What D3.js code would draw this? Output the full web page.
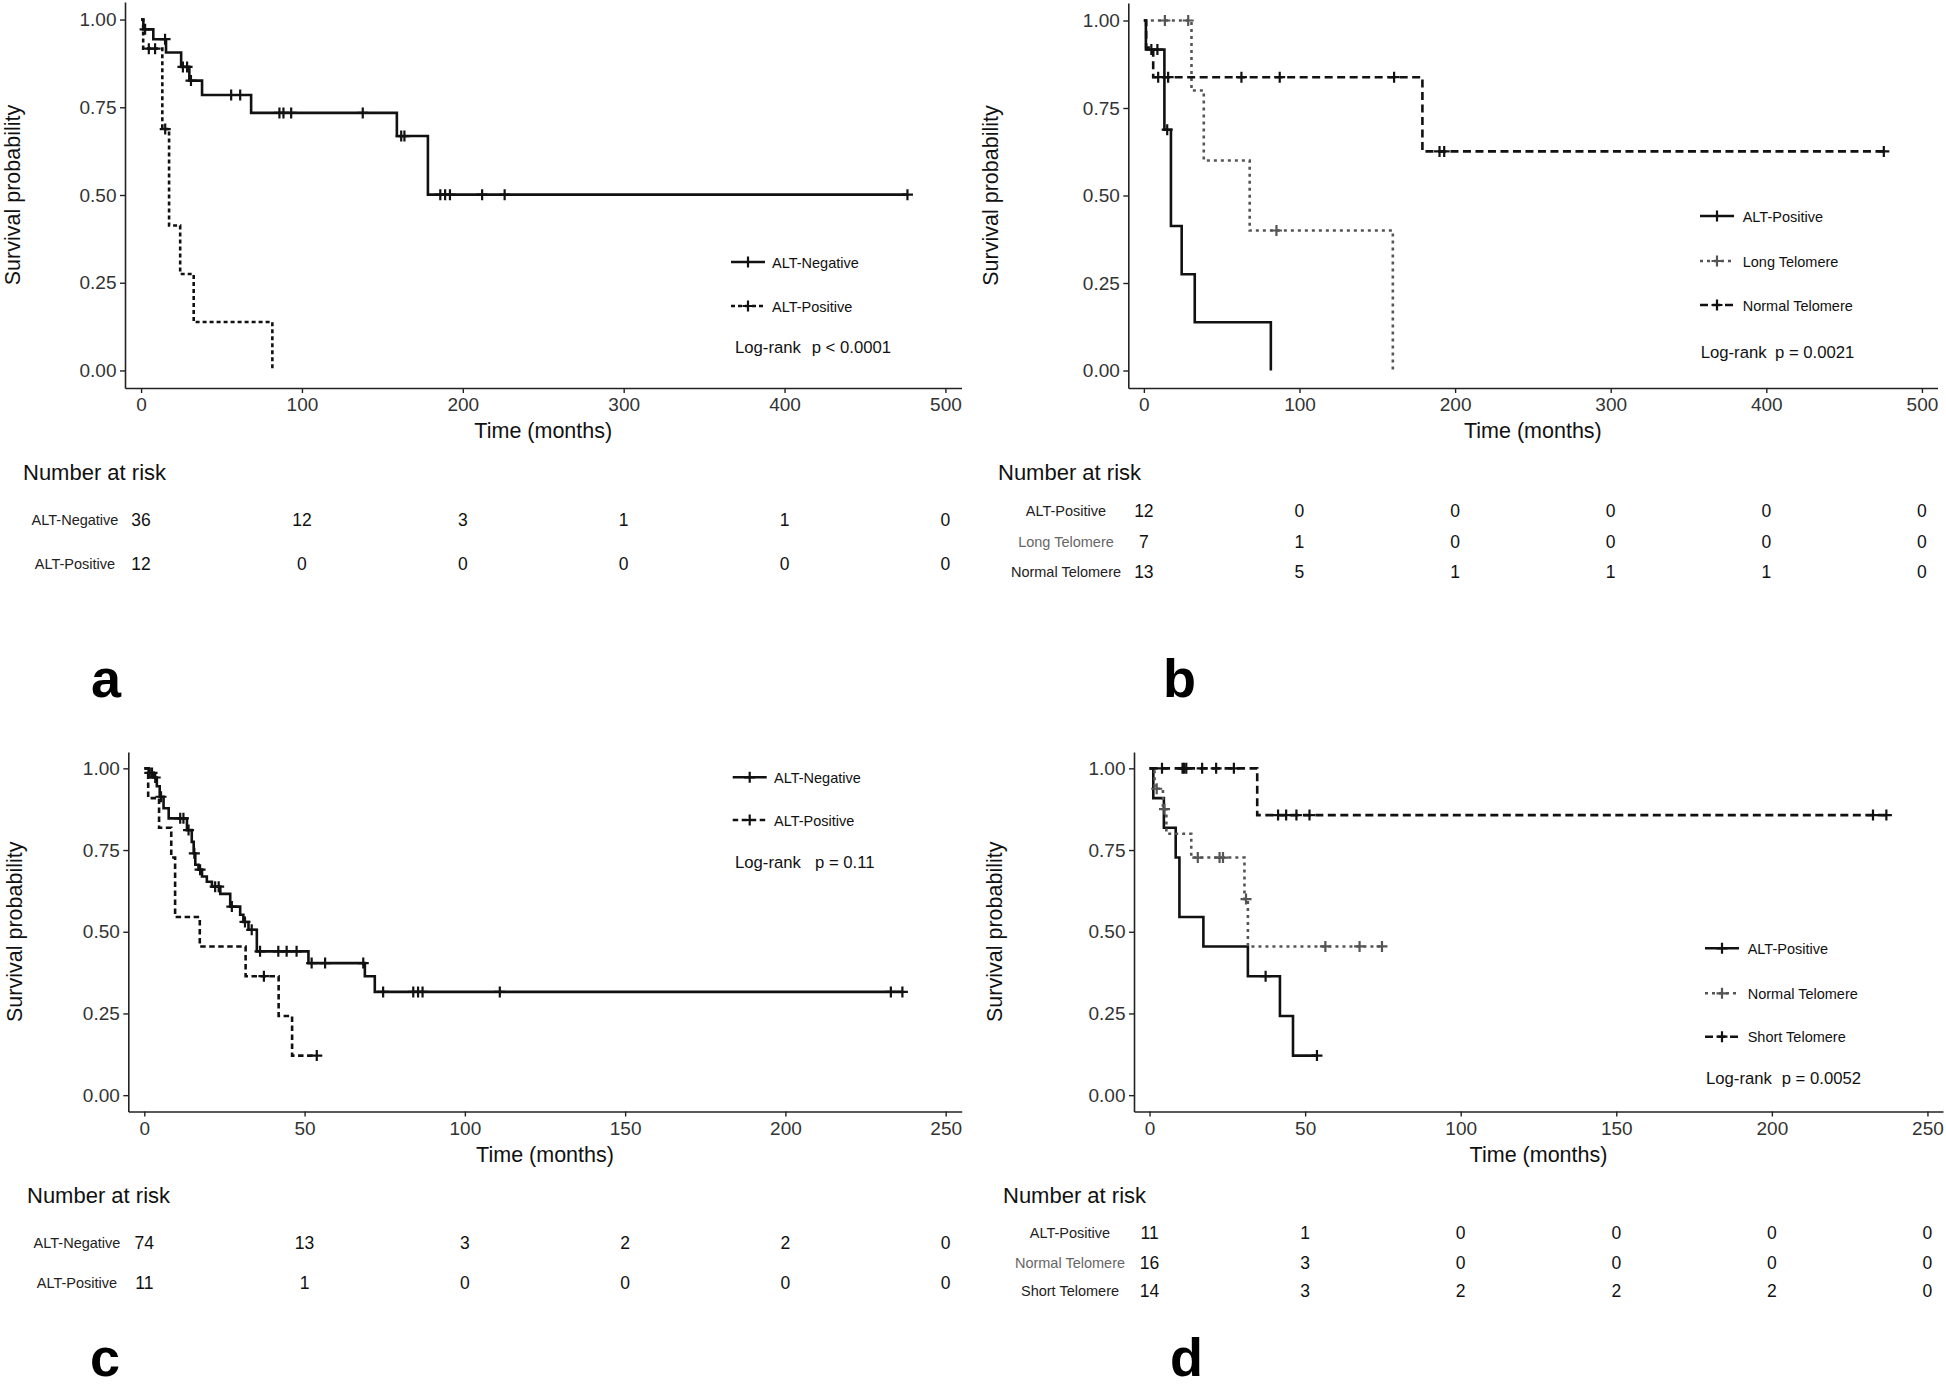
<!DOCTYPE html>
<html>
<head>
<meta charset="utf-8">
<script src="https://cdn.jsdelivr.net/npm/d3@7"></script>
<style>
body { margin: 0; background: #fff; }
text { font-family: "Liberation Sans", Arial, sans-serif; }
</style>
</head>
<body>
<svg id="fig" width="1946" height="1391"></svg>
<script>
// ---- data ----
var yTicks = [0, 0.25, 0.5, 0.75, 1];
var xTicks500 = [0, 100, 200, 300, 400, 500];
var xTicks250 = [0, 50, 100, 150, 200, 250];

// panel a / b : ALT-Positive (n = 12)
var pos12Times = [1.3, 13.2, 17.4, 24.3, 32.7, 81.6];
var pos12Surv  = [0.917, 0.688, 0.413, 0.275, 0.138, 0];
var pos12Cens  = [4.8, 8.7, 15.0];

// panel a : ALT-Negative (n = 36)
var neg36Times = [1.4, 7.6, 15.5, 24.9, 30.0, 37.9, 68.4, 159, 178.3];
var neg36Surv  = [0.972, 0.944, 0.906, 0.865, 0.826, 0.785, 0.734, 0.668, 0.501];
var neg36Cens  = [2.5, 14.9, 26.0, 28.6, 31.0, 56.0, 61.6, 86.0, 88.5, 93.3, 137.8,
                  161.7, 163.7, 186, 189, 192, 212, 226, 476.4];

// panel b : Long / Normal Telomere
var longTimes = [30.6, 38.5, 68.0, 160.0];
var longSurv  = [0.80, 0.60, 0.40, 0];
var longCens  = [13.5, 28.5, 85.2];

var normBTimes = [1.5, 6.0, 179.0];
var normBSurv  = [0.923, 0.838, 0.626];
var normBCens  = [9.2, 15.6, 62.7, 87.3, 160.8, 190, 193, 475.5];

// panel c : ALT-Negative (n = 74)
var neg74Times = [1.35, 2.9, 3.9, 4.8, 6.0, 7.6, 13.3, 14.8, 15.4, 15.9, 16.9, 18.0,
                  19.5, 21.1, 23.7, 26.8, 29.9, 30.9, 32.5, 35.1, 51.2, 68.8, 71.9];
var neg74Surv  = [0.986, 0.972, 0.945, 0.913, 0.878, 0.847, 0.811, 0.775, 0.74, 0.705,
                  0.69, 0.669, 0.653, 0.638, 0.616, 0.577, 0.552, 0.53, 0.506, 0.44,
                  0.404, 0.364, 0.316];
var neg74Cens  = [1.7, 2.4, 3.4, 5.2, 11.2, 12.2, 13.8, 15.6, 17.4, 22.1, 23.2, 27.3,
                  31.4, 33.5, 36.1, 41.8, 44.4, 47.5, 52.2, 56.4, 68.3, 74.5, 83.9,
                  85.4, 86.8, 110.9, 232.9, 236.5];

// panel c / d : ALT-Positive (n = 11)
var pos11Times = [1.2, 4.6, 8.4, 9.6, 17.3, 31.6, 41.9, 46.1];
var pos11Surv  = [0.909, 0.818, 0.727, 0.545, 0.455, 0.364, 0.242, 0.121];
var pos11Cens  = [37.3, 53.8];

// panel d : Normal / Short Telomere
var normDTimes = [1.6, 4.3, 5.4, 13.4, 30.5, 31.6];
var normDSurv  = [0.9375, 0.875, 0.80, 0.727, 0.60, 0.455];
var normDCens  = [2.3, 4.8, 15.5, 22.5, 23.6, 31.0, 56.5, 67.5, 74.7];

var shortTimes = [34.6];
var shortSurv  = [0.857];
var shortCens  = [4.0, 10.6, 11.1, 11.8, 16.9, 21.4, 27.1, 41.3, 43.9, 47.2, 51.4, 232.5, 236.8];

// number at risk
var riskANeg = [36, 12, 3, 1, 1, 0];
var riskAPos = [12, 0, 0, 0, 0, 0];
var riskBPos = [12, 0, 0, 0, 0, 0];
var riskBLong = [7, 1, 0, 0, 0, 0];
var riskBNorm = [13, 5, 1, 1, 1, 0];
var riskCNeg = [74, 13, 3, 2, 2, 0];
var riskCPos = [11, 1, 0, 0, 0, 0];
var riskDPos = [11, 1, 0, 0, 0, 0];
var riskDNorm = [16, 3, 0, 0, 0, 0];
var riskDShort = [14, 3, 2, 2, 2, 0];

// ---- panel setup ----
var solid = null, dotted = "4,3", dashedC = "5.5,3.5", dot2 = "3,4", dash2 = "8,4.5";

var panels = [
  { letter: "a", lx: 91, ly: 697, xMax: 500, ticks: xTicks500,
    box: { l: 125, r: 961.5, t: 2, b: 388 }, yTitleX: 20,
    series: [
      { name: "ALT-Negative", times: neg36Times, surv: neg36Surv, cens: neg36Cens, dash: solid, color: "#111", risk: riskANeg, labelColor: "#222" },
      { name: "ALT-Positive", times: pos12Times, surv: pos12Surv, cens: pos12Cens, dash: dotted, color: "#111", risk: riskAPos, labelColor: "#222" }
    ],
    legend: { kx: 731, tx: 772, ys: [262, 306] },
    logrank: { x: 735, px: 811.7, y: 352.5, p: "p < 0.0001" },
    riskTitle: { x: 23, y: 479.5 }, riskLabelX: 75, riskYs: [526, 570] },
  { letter: "b", lx: 1163, ly: 697, xMax: 500, ticks: xTicks500,
    box: { l: 1128.3, r: 1937.5, t: 3, b: 388 }, yTitleX: 998,
    series: [
      { name: "ALT-Positive", times: pos12Times, surv: pos12Surv, cens: pos12Cens, dash: solid, color: "#111", risk: riskBPos, labelColor: "#222" },
      { name: "Long Telomere", times: longTimes, surv: longSurv, cens: longCens, dash: dot2, color: "#555", risk: riskBLong, labelColor: "#666" },
      { name: "Normal Telomere", times: normBTimes, surv: normBSurv, cens: normBCens, dash: dash2, color: "#111", risk: riskBNorm, labelColor: "#222" }
    ],
    legend: { kx: 1700, tx: 1742.7, ys: [216, 261, 305] },
    logrank: { x: 1700.7, px: 1775, y: 358.3, p: "p = 0.0021" },
    riskTitle: { x: 998, y: 479.5 }, riskLabelX: 1066, riskYs: [516.7, 548.3, 578.3] },
  { letter: "c", lx: 90, ly: 1376, xMax: 250, ticks: xTicks250,
    box: { l: 128.3, r: 961.7, t: 752, b: 1111.5 }, yTitleX: 22,
    series: [
      { name: "ALT-Negative", times: neg74Times, surv: neg74Surv, cens: neg74Cens, dash: solid, color: "#111", risk: riskCNeg, labelColor: "#222" },
      { name: "ALT-Positive", times: pos11Times, surv: pos11Surv, cens: pos11Cens, dash: dashedC, color: "#111", risk: riskCPos, labelColor: "#222" }
    ],
    legend: { kx: 732.7, tx: 774, ys: [777.3, 820] },
    logrank: { x: 735, px: 815, y: 867.7, p: "p = 0.11" },
    riskTitle: { x: 27, y: 1203.3 }, riskLabelX: 77, riskYs: [1249, 1289] },
  { letter: "d", lx: 1170, ly: 1376, xMax: 250, ticks: xTicks250,
    box: { l: 1134, r: 1943, t: 752, b: 1111.5 }, yTitleX: 1002,
    series: [
      { name: "ALT-Positive", times: pos11Times, surv: pos11Surv, cens: pos11Cens, dash: solid, color: "#111", risk: riskDPos, labelColor: "#222" },
      { name: "Normal Telomere", times: normDTimes, surv: normDSurv, cens: normDCens, dash: dot2, color: "#555", risk: riskDNorm, labelColor: "#666" },
      { name: "Short Telomere", times: shortTimes, surv: shortSurv, cens: shortCens, dash: dash2, color: "#111", risk: riskDShort, labelColor: "#222" }
    ],
    legend: { kx: 1705, tx: 1747.7, ys: [948.3, 993.3, 1036.7] },
    logrank: { x: 1706, px: 1781.7, y: 1084, p: "p = 0.0052" },
    riskTitle: { x: 1003, y: 1203.3 }, riskLabelX: 1070, riskYs: [1239.3, 1269, 1296.7] }
];

var svg = d3.select("#fig");

function survAt(times, surv, t) {
  var s = 1;
  times.forEach(function(tt, i) { if (tt <= t) s = surv[i]; });
  return s;
}

function plusPath(x, y, r) {
  return "M" + (x - r) + "," + y + "H" + (x + r) + "M" + x + "," + (y - r) + "V" + (y + r);
}

panels.forEach(function(p) {
  var g = svg.append("g");
  var x = d3.scaleLinear().domain([-0.02 * p.xMax, 1.02 * p.xMax]).range([p.box.l, p.box.r]);
  var y = d3.scaleLinear().domain([-0.05, 1.05]).range([p.box.b, p.box.t]);

  // axes
  var xAxis = g.append("g")
    .attr("transform", "translate(0," + p.box.b + ")")
    .call(d3.axisBottom(x).tickValues(p.ticks).tickSize(5).tickSizeOuter(0).tickPadding(5));
  var yAxis = g.append("g")
    .attr("transform", "translate(" + p.box.l + ",0)")
    .call(d3.axisLeft(y).tickValues(yTicks).tickFormat(d3.format(".2f")).tickSize(5).tickSizeOuter(0).tickPadding(3.5));
  [xAxis, yAxis].forEach(function(a) {
    a.select(".domain").attr("stroke", "#222").attr("stroke-width", 1.6);
    a.selectAll(".tick line").attr("stroke", "#222").attr("stroke-width", 1.4);
    a.selectAll(".tick text").attr("fill", "#333").style("font-size", "19px")
      .style("font-family", "'Liberation Sans', Arial, sans-serif");
  });

  // axis titles
  g.append("text")
    .attr("transform", "translate(" + p.yTitleX + "," + ((p.box.t + p.box.b) / 2) + ") rotate(-90)")
    .attr("text-anchor", "middle")
    .style("font-size", "21.5px").attr("fill", "#111")
    .text("Survival probability");
  g.append("text")
    .attr("x", (p.box.l + p.box.r) / 2).attr("y", p.box.b + 50)
    .attr("text-anchor", "middle")
    .style("font-size", "21.5px").attr("fill", "#111")
    .text("Time (months)");

  // curves
  var line = d3.line().x(function(d) { return x(d[0]); }).y(function(d) { return y(d[1]); })
    .curve(d3.curveStepAfter);
  p.series.forEach(function(s) {
    var pts = [[0, 1]];
    s.times.forEach(function(t, i) { pts.push([t, s.surv[i]]); });
    var last = d3.max(s.cens.concat(s.times));
    pts.push([last, s.surv[s.surv.length - 1]]);
    g.append("path").datum(pts)
      .attr("d", line)
      .attr("fill", "none")
      .attr("stroke", s.color)
      .attr("stroke-width", 2.6)
      .attr("stroke-dasharray", s.dash);
    g.append("g").selectAll("path").data(s.cens).enter().append("path")
      .attr("d", function(t) { return plusPath(x(t), y(survAt(s.times, s.surv, t)), 5.5); })
      .attr("stroke", s.color).attr("stroke-width", 2.2).attr("fill", "none");
  });

  // legend
  p.series.forEach(function(s, i) {
    var ly = p.legend.ys[i];
    g.append("line")
      .attr("x1", p.legend.kx).attr("x2", p.legend.kx + 34)
      .attr("y1", ly).attr("y2", ly)
      .attr("stroke", s.color).attr("stroke-width", 2.6)
      .attr("stroke-dasharray", s.dash);
    g.append("path").attr("d", plusPath(p.legend.kx + 17, ly, 5.5))
      .attr("stroke", s.color).attr("stroke-width", 2.2);
    g.append("text")
      .attr("x", p.legend.tx).attr("y", ly + 5.5)
      .style("font-size", "14.5px").attr("fill", "#111")
      .text(s.name);
  });
  g.append("text").attr("x", p.logrank.x).attr("y", p.logrank.y)
    .style("font-size", "16.7px").attr("fill", "#111").text("Log-rank");
  g.append("text").attr("x", p.logrank.px).attr("y", p.logrank.y)
    .style("font-size", "16.7px").attr("fill", "#111").text(p.logrank.p);

  // number at risk table
  g.append("text").attr("x", p.riskTitle.x).attr("y", p.riskTitle.y)
    .style("font-size", "22px").attr("fill", "#111").text("Number at risk");
  p.series.forEach(function(s, i) {
    var ry = p.riskYs[i];
    g.append("text").attr("x", p.riskLabelX).attr("y", ry - 1)
      .attr("text-anchor", "middle")
      .style("font-size", "14.5px").attr("fill", s.labelColor)
      .text(s.name);
    g.append("g").selectAll("text").data(s.risk).enter().append("text")
      .attr("x", function(d, j) { return x(p.ticks[j]); })
      .attr("y", ry)
      .attr("text-anchor", "middle")
      .style("font-size", "17.5px").attr("fill", "#111")
      .text(function(d) { return d; });
  });

  // panel letter
  g.append("text").attr("x", p.lx).attr("y", p.ly)
    .style("font-family", "'Liberation Sans Narrow', 'Liberation Sans', Arial, sans-serif")
    .style("font-weight", "bold").style("font-size", "54px").attr("fill", "#000")
    .text(p.letter);
});
</script>
</body>
</html>
